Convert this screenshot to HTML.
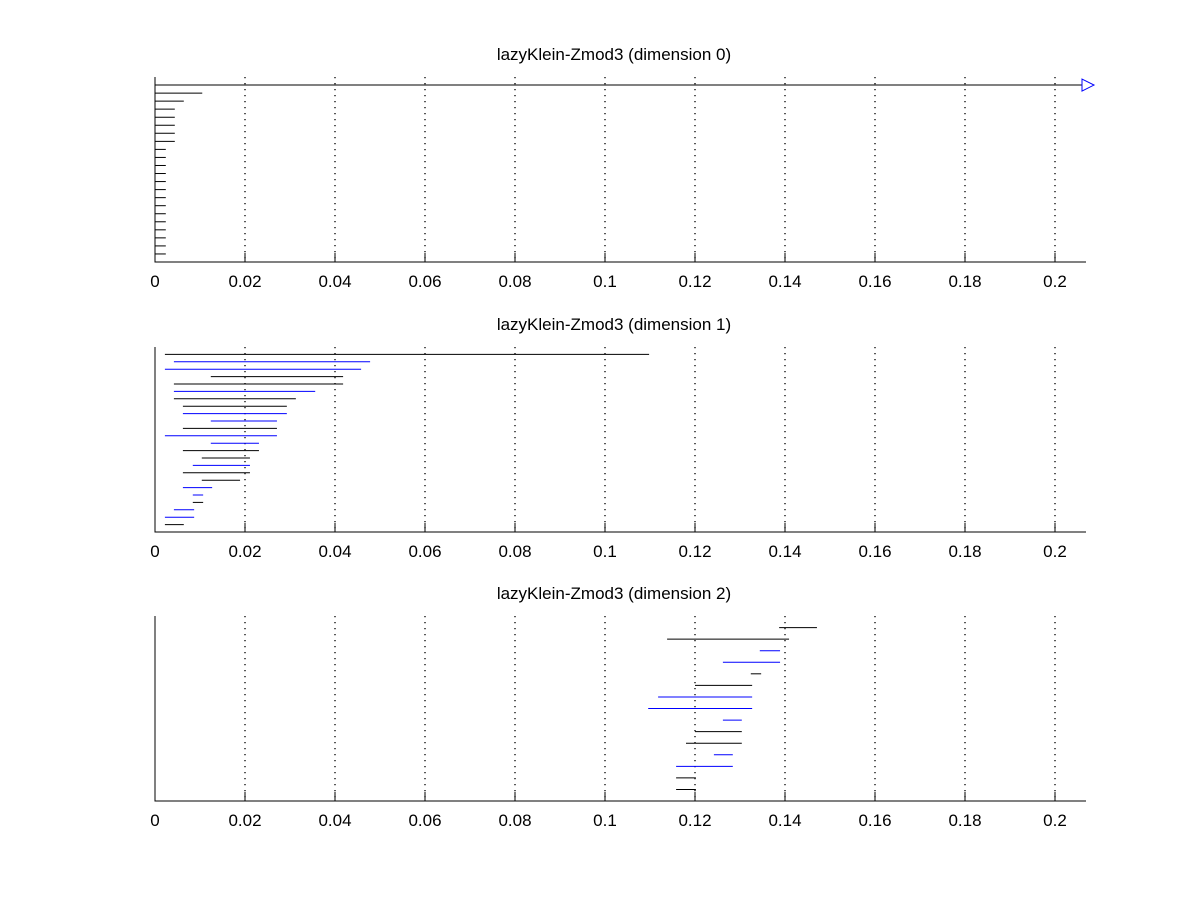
<!DOCTYPE html>
<html><head><meta charset="utf-8"><style>
html,body{margin:0;padding:0;background:#fff;}
svg{display:block;font-family:"Liberation Sans",sans-serif;}
</style></head><body>
<svg id="chart" width="1200" height="900" viewBox="0 0 1200 900" xmlns="http://www.w3.org/2000/svg">
<rect width="1200" height="900" fill="#fff"/>
</svg>
<script>
const ticks=[0,0.02,0.04,0.06,0.08,0.1,0.12,0.14,0.16,0.18,0.2];
const tickLabels=["0","0.02","0.04","0.06","0.08","0.1","0.12","0.14","0.16","0.18","0.2"];
const titles=["lazyKlein-Zmod3 (dimension 0)","lazyKlein-Zmod3 (dimension 1)","lazyKlein-Zmod3 (dimension 2)"];
const d0Start=[0,0,0,0,0,0,0,0,0,0,0,0,0,0,0,0,0,0,0,0,0,0];
const d0End=[Infinity,0.0105,0.0064,0.0044,0.0044,0.0044,0.0044,0.0044,0.0024,0.0024,0.0024,0.0024,0.0024,0.0024,0.0024,0.0024,0.0024,0.0024,0.0024,0.0024,0.0024,0.0024];
const d0Col=["k","k","k","k","k","k","k","k","k","k","k","k","k","k","k","k","k","k","k","k","k","k"];
const d1Start=[0.0022,0.0042,0.0022,0.0124,0.0042,0.0042,0.0042,0.0062,0.0062,0.0124,0.0062,0.0022,0.0124,0.0062,0.0104,0.0084,0.0062,0.0104,0.0062,0.0084,0.0084,0.0042,0.0022,0.0022];
const d1End=[0.1098,0.0478,0.0458,0.0418,0.0418,0.0356,0.0313,0.0293,0.0293,0.0271,0.0271,0.0271,0.0231,0.0231,0.0211,0.0211,0.0211,0.0189,0.0127,0.0107,0.0107,0.0087,0.0087,0.0064];
const d1Col=["k","b","b","k","k","b","k","k","b","b","k","b","b","k","k","b","k","k","b","b","k","b","b","k"];
const d2Start=[0.1387,0.1138,0.1344,0.1262,0.1324,0.12,0.1118,0.1096,0.1262,0.12,0.118,0.1242,0.1158,0.1158,0.1158];
const d2End=[0.1471,0.1409,0.1389,0.1389,0.1347,0.1327,0.1327,0.1327,0.1304,0.1304,0.1304,0.1284,0.1284,0.1202,0.1202];
const d2Col=["k","k","b","b","k","k","b","b","b","k","k","b","b","k","k"];

const svg=document.getElementById('chart');
const NS="http://www.w3.org/2000/svg";
const X0=155,XR=1086;
const xs=v=>X0+v*4500;
function mk(t,a){const e=document.createElementNS(NS,t);for(const k in a)e.setAttribute(k,a[k]);svg.appendChild(e);return e;}
const panels=[{top:77,bot:262,s:d0Start,e:d0End,c:d0Col},{top:347,bot:532,s:d1Start,e:d1End,c:d1Col},{top:616,bot:801,s:d2Start,e:d2End,c:d2Col}];
panels.forEach((p,pi)=>{
  const t=mk('text',{x:614,y:p.top-17,'text-anchor':'middle','font-size':'17'});
  t.textContent=titles[pi];
  
  
  ticks.forEach((v,i)=>{
    const x=xs(v);
    if(v>0){
      const g=mk('line',{x1:x,y1:p.top,x2:x,y2:p.bot,stroke:'#000','stroke-width':1.3,'stroke-dasharray':'1.3 4.7'});
      
      
      const tk=mk('line',{x1:x,y1:p.bot,x2:x,y2:p.bot-9,stroke:'#000','stroke-width':1});
      
      
    }
    const l=mk('text',{x:x,y:p.bot+25,'text-anchor':'middle','font-size':'17'});
    l.textContent=tickLabels[i];
    
    
  });
  const ax=mk('path',{d:`M${X0} ${p.top}V${p.bot}H${XR}`,fill:'none',stroke:'#000','stroke-width':1});
  
  
  const n=p.s.length, step=(p.bot-p.top)/(n+1);
  for(let i=0;i<n;i++){
    const y=p.top+step*(i+1);
    const inf=!isFinite(p.e[i]);
    const xe=inf?1082:xs(p.e[i]);
    const col=p.c[i]==='b'?'#0000ff':'#000';
    const b=mk('line',{x1:xs(p.s[i]),y1:y,x2:xe,y2:y,stroke:col,'stroke-width':1});
    
    
    if(inf){
      const a=mk('path',{d:`M${xe} ${y-6}L${xe+12} ${y}L${xe} ${y+6}Z`,fill:'none',stroke:'#0000ff','stroke-width':1});
      
      
    }
  }
});
</script>
</body></html>
